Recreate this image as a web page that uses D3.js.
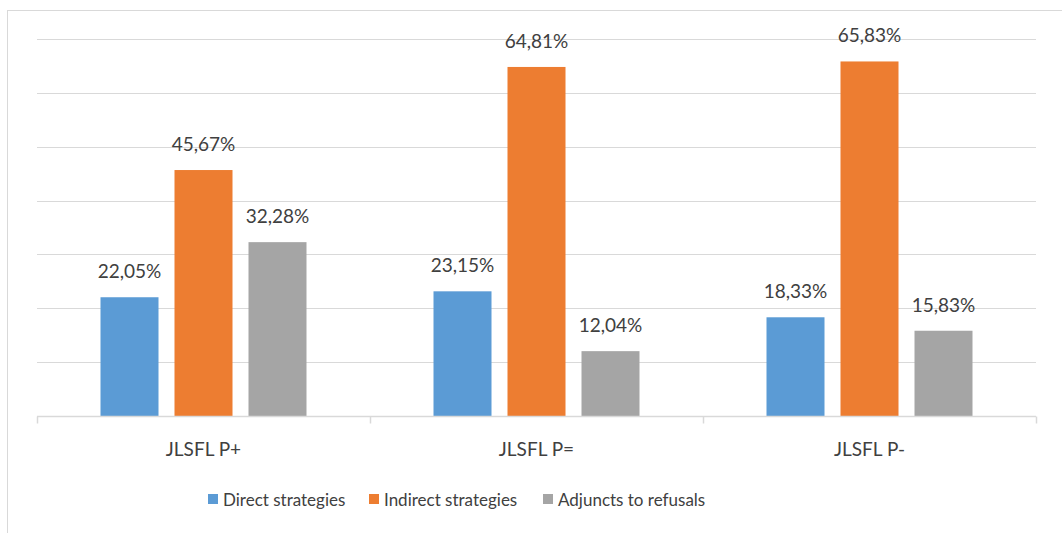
<!DOCTYPE html>
<html><head><meta charset="utf-8">
<script src="https://cdn.jsdelivr.net/npm/d3@7"></script>
<style>body{margin:0;background:#fff}svg{display:block}text{font-family:Lato,"Open Sans",sans-serif;fill:#404040}</style>
</head><body><svg id="c" width="1062" height="533"></svg>
<script>
const categories = ["JLSFL P+", "JLSFL P=", "JLSFL P-"];
const seriesNames = ["Direct strategies", "Indirect strategies", "Adjuncts to refusals"];
const direct = [22.05, 23.15, 18.33];
const indirect = [45.67, 64.81, 65.83];
const adjuncts = [32.28, 12.04, 15.83];
const gridTicks = [0, 10, 20, 30, 40, 50, 60, 70];
const colors = ["#5B9BD5", "#ED7D31", "#A5A5A5"];
const series = [direct, indirect, adjuncts];

const svg = d3.select("#c");
// outer frame
svg.append("rect").attr("x",7.5).attr("y",10.5).attr("width",1070).attr("height",540)
  .attr("fill","none").attr("stroke","#d9d9d9");

const x0 = d3.scaleBand().domain(categories).range([37, 1036]);
const y = d3.scaleLinear().domain([0, 70]).range([416, 39]);
const x1 = d3.scaleBand().domain(d3.range(3)).range([0, 206]).paddingInner(16/74).paddingOuter(0);

// gridlines
svg.append("g").selectAll("line").data(gridTicks.filter(d=>d>0)).join("line")
  .attr("x1",37).attr("x2",1036).attr("y1",d=>Math.round(y(d))+0.5).attr("y2",d=>Math.round(y(d))+0.5)
  .attr("stroke","#d9d9d9").attr("stroke-width",1);

// bars
const g = svg.append("g");
categories.forEach((c,i)=>{
  const gx = x0(c) + (x0.bandwidth()-206)/2;
  series.forEach((s,j)=>{
    g.append("rect").attr("x",gx + x1(j)).attr("width",x1.bandwidth())
      .attr("y",y(s[i])).attr("height",y(0)-y(s[i])).attr("fill",colors[j]);
    g.append("text").attr("x",gx + x1(j) + x1.bandwidth()/2).attr("y",y(s[i])-19)
      .attr("text-anchor","middle").attr("font-size","19px")
      .text(s[i].toFixed(2).replace(".",",")+"%");
  });
});

// x axis
const ax = svg.append("g").attr("transform","translate(0,416.5)");
ax.append("line").attr("x1",37).attr("x2",1036).attr("stroke","#d9d9d9").attr("stroke-width",1.5);
const ticksX = [37].concat(categories.map(c=>x0(c)+x0.bandwidth()));
ax.selectAll("line.t").data(ticksX).join("line").attr("class","t")
  .attr("x1",d=>Math.round(d)+0.5).attr("x2",d=>Math.round(d)+0.5).attr("y1",0).attr("y2",7)
  .attr("stroke","#d9d9d9").attr("stroke-width",1.5);
ax.selectAll("text").data(categories).join("text")
  .attr("x",d=>x0(d)+x0.bandwidth()/2).attr("y",39).attr("text-anchor","middle")
  .attr("font-size","19px").text(d=>d);

// legend
const legX = [208, 369, 543];
const lg = svg.append("g");
seriesNames.forEach((n,j)=>{
  lg.append("rect").attr("x",legX[j]).attr("y",494).attr("width",10).attr("height",10).attr("fill",colors[j]);
  lg.append("text").attr("x",legX[j]+15).attr("y",506).attr("font-size","17px").text(n);
});
</script></body></html>
